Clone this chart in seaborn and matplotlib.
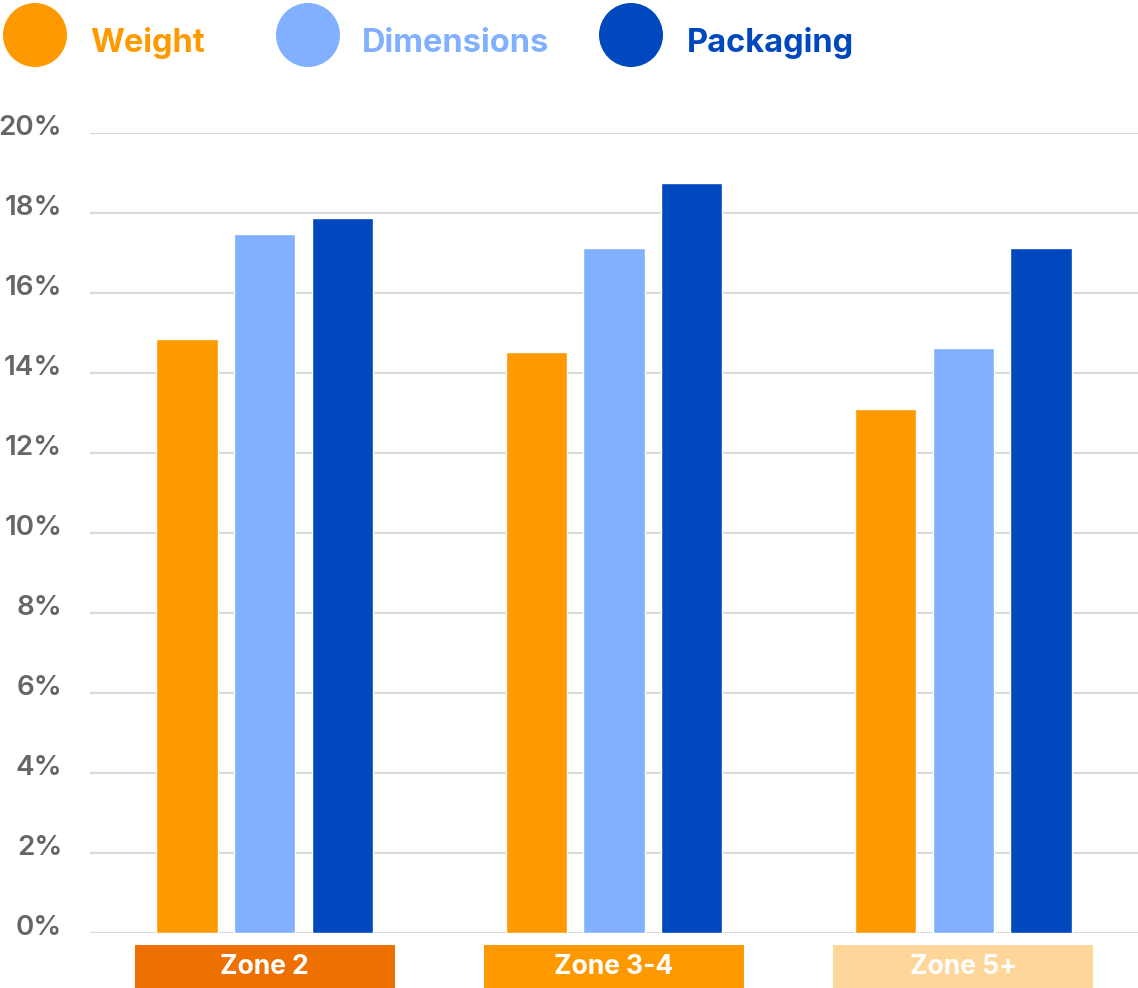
import matplotlib
matplotlib.use("Agg")
import matplotlib.pyplot as plt
from matplotlib.patches import Rectangle, Ellipse
import matplotlib.transforms as mtransforms
import seaborn as sns
import pandas as pd

zones = ["Zone 2", "Zone 3-4", "Zone 5+"]
series = ["Weight", "Dimensions", "Packaging"]
weight = [14.84, 14.53, 13.1]
dimensions = [17.46, 17.13, 14.62]
packaging = [17.86, 18.73, 17.13]
yticks = [0, 2, 4, 6, 8, 10, 12, 14, 16, 18, 20]

series_colors = ["#FF9900", "#80B0FF", "#0048BD"]
zone_colors = ["#EE7000", "#FF9900", "#FFD699"]

rows = []
for name, vals in zip(series, [weight, dimensions, packaging]):
    for z, v in zip(zones, vals):
        rows.append({"zone": z, "series": name, "value": v})
df = pd.DataFrame(rows)

sns.set_theme(style="white")
plt.rcParams["font.family"] = ["Inter", "Roboto", "DejaVu Sans"]

W, H = 1138, 988
fig = plt.figure(figsize=(W / 100, H / 100), dpi=100)
ax = fig.add_axes([90 / W, 55.3 / H, (W - 90) / W, 800 / H])

sns.barplot(data=df, x="zone", y="value", hue="series", order=zones,
            hue_order=series, palette=series_colors, width=0.667, gap=0.21,
            saturation=1, legend=False, ax=ax, zorder=3)

ax.set_xlim(-0.5, 2.5)
ax.set_ylim(0, 20)
ax.set_yticks(yticks)
ax.set_yticklabels([f"{t}%" for t in yticks])
ax.tick_params(axis="y", length=0, pad=20.0, labelsize=20, labelcolor="#666666")
offset = mtransforms.ScaledTranslation(0, -2 / 100, fig.dpi_scale_trans)
for lab in ax.get_yticklabels():
    lab.set_fontweight("semibold")
    lab.set_verticalalignment("baseline")
    lab.set_transform(lab.get_transform() + offset)
ax.set_xticks([])
ax.set_xlabel("")
ax.set_ylabel("")
for s in ax.spines.values():
    s.set_visible(False)
ax.set_axisbelow(True)
ax.yaxis.grid(True, color="#D9D9D9", linewidth=1.5)
ax.xaxis.grid(False)

# zone label boxes under the categories
trans = mtransforms.blended_transform_factory(ax.transData, ax.transAxes)
box_w = 0.745
for i, (z, c) in enumerate(zip(zones, zone_colors)):
    ax.add_patch(Rectangle((i - box_w / 2, -55.3 / 800), box_w, 43 / 800,
                           transform=trans, facecolor=c, edgecolor="none",
                           clip_on=False))
    ax.text(i, (-55.3 + 21.5) / 800, z, transform=trans, ha="center", va="center",
            color="white", fontsize=19, fontweight="bold")

# legend at top
circle_x = [35, 308, 631]
text_x = [90, 362, 687]
cy = H - 35
for name, col, cx, tx in zip(series, series_colors, circle_x, text_x):
    fig.patches.append(Ellipse((cx / W, cy / H), 64 / W, 64 / H,
                               transform=fig.transFigure, facecolor=col,
                               edgecolor="none"))
    fig.text(tx / W, (H - 52) / H, name, ha="left", va="baseline", color=col,
             fontsize=23.5, fontweight="bold")

fig.savefig("out.png", dpi=100)
